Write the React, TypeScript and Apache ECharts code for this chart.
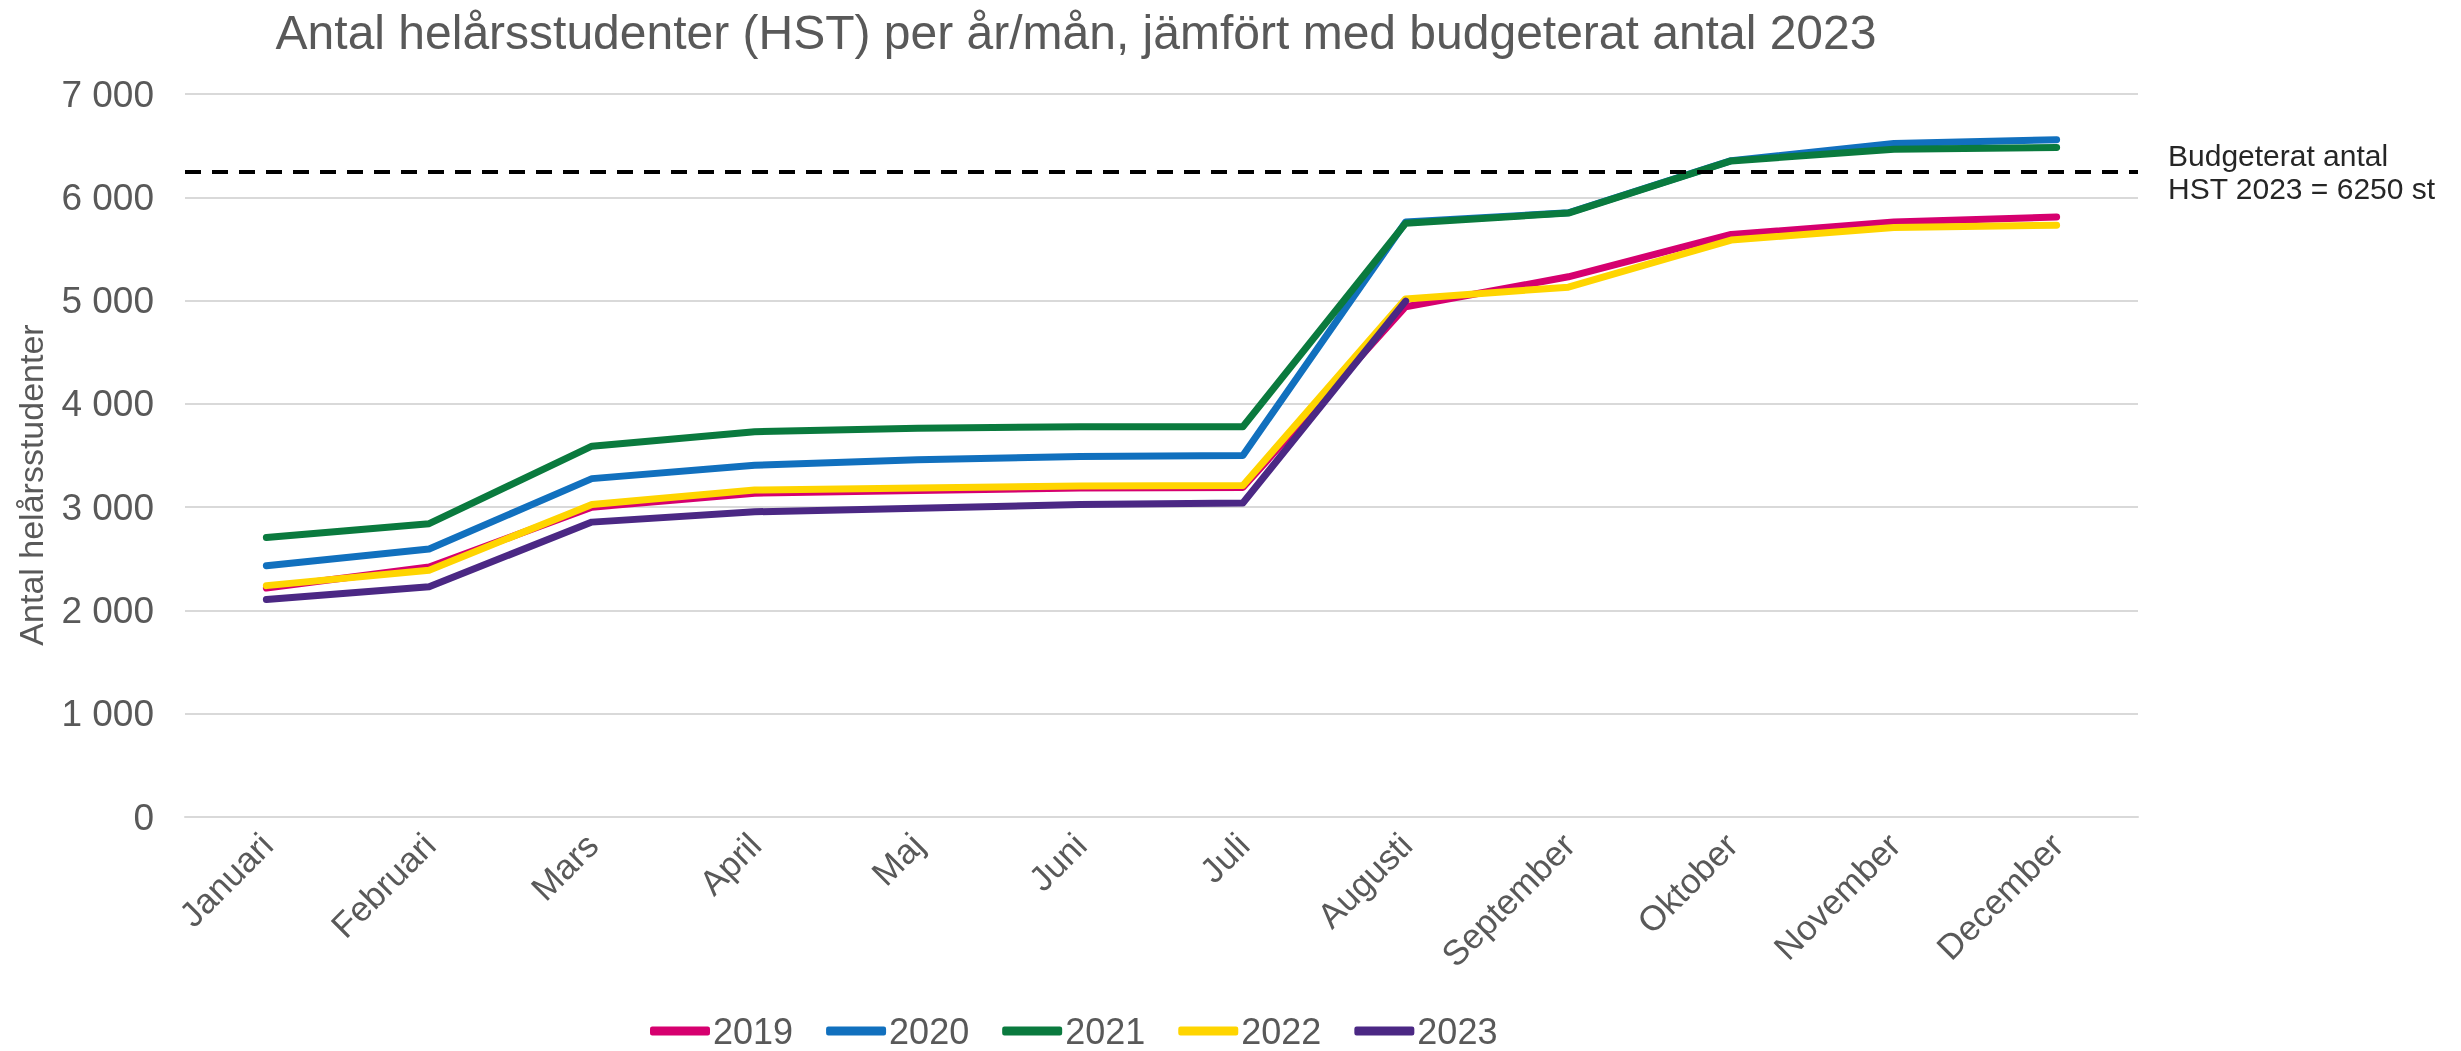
import React, { useEffect, useRef } from "react";
import * as echarts from "echarts";

const months = ["Januari", "Februari", "Mars", "April", "Maj", "Juni", "Juli", "Augusti", "September", "Oktober", "November", "December"];
const y2019 = [2217, 2420, 3000, 3135, 3160, 3185, 3190, 4940, 5230, 5640, 5760, 5810];
const y2020 = [2433, 2595, 3276, 3405, 3460, 3490, 3500, 5760, 5850, 6355, 6520, 6557];
const y2021 = [2707, 2840, 3590, 3730, 3765, 3778, 3778, 5749, 5847, 6352, 6466, 6482];
const y2022 = [2240, 2390, 3025, 3165, 3185, 3205, 3210, 5016, 5130, 5586, 5707, 5730];
const y2023 = [2105, 2230, 2855, 2955, 2990, 3025, 3040, 4995, null, null, null, null];
const budget = 6250;
const seriesNames = ["2019", "2020", "2021", "2022", "2023"];
const seriesColors = ["#D6006F", "#1170BE", "#0A7A3E", "#FFD500", "#4B2884"];
const FONT = "'Liberation Sans', Arial, sans-serif";

export default function App() {
  const ref = useRef<HTMLDivElement>(null);
  useEffect(() => {
    document.body.style.margin = "0";
    const chart = echarts.init(ref.current!, null, { renderer: "svg" });
    const data = [y2019, y2020, y2021, y2022, y2023];
    const series: any[] = data.map((d, i) => ({
      name: seriesNames[i],
      type: "line",
      data: d,
      showSymbol: false,
      symbol: "none",
      lineStyle: { color: seriesColors[i], width: 7, cap: "round", join: "round" },
      itemStyle: { color: seriesColors[i] },
      z: 2 + i,
    }));
    series[0].markLine = {
      silent: true,
      symbol: "none",
      label: { show: false },
      lineStyle: { color: "#000000", type: [16, 11], width: 4 },
      data: [{ yAxis: budget }],
      z: 10,
    };
    chart.setOption({
      animation: false,
      textStyle: { fontFamily: FONT },
      title: {
        text: "Antal helårsstudenter (HST) per år/mån, jämfört med budgeterat antal 2023",
        left: 1071,
        textAlign: "center",
        top: 3,
        textStyle: { fontFamily: FONT, fontSize: 48, fontWeight: "normal", color: "#595959" },
      },
      grid: { left: 185, right: 323, top: 94, bottom: 234, containLabel: false },
      legend: {
        data: seriesNames,
        left: 645,
        top: 1008,
        icon: "roundRect",
        itemWidth: 60,
        itemHeight: 9,
        itemGap: 33,
        textStyle: { fontFamily: FONT, fontSize: 36, color: "#595959", padding: [0, 0, 0, -2] },
      },
      xAxis: {
        type: "category",
        data: months,
        boundaryGap: true,
        axisLine: { show: true, lineStyle: { color: "#D9D9D9", width: 2 } },
        axisTick: { show: false },
        axisLabel: { rotate: 45, margin: 22, fontSize: 35, color: "#595959", fontFamily: FONT, interval: 0 },
      },
      yAxis: {
        type: "value",
        min: 0,
        max: 7000,
        interval: 1000,
        axisLine: { show: false },
        axisTick: { show: false },
        splitLine: { lineStyle: { color: "#D9D9D9", width: 2 } },
        axisLabel: {
          margin: 31,
          fontSize: 37,
          color: "#595959",
          fontFamily: FONT,
          formatter: (v: number) => String(v).replace(/\B(?=(\d{3})+(?!\d))/g, " "),
        },
      },
      graphic: [
        {
          type: "text",
          x: 31,
          y: 485,
          rotation: Math.PI / 2,
          style: {
            text: "Antal helårsstudenter",
            fontSize: 34,
            fontFamily: FONT,
            fill: "#595959",
            align: "center",
            verticalAlign: "middle",
          },
        },
        {
          type: "text",
          x: 2168,
          y: 172,
          style: {
            text: "Budgeterat antal\nHST 2023 = 6250 st",
            fontSize: 30,
            lineHeight: 33,
            fontFamily: FONT,
            fill: "#262626",
            align: "left",
            verticalAlign: "middle",
          },
        },
      ],
      series,
    });
    return () => chart.dispose();
  }, []);
  return <div ref={ref} style={{ position: "fixed", left: 0, top: 0, width: 2461, height: 1051 }} />;
}
